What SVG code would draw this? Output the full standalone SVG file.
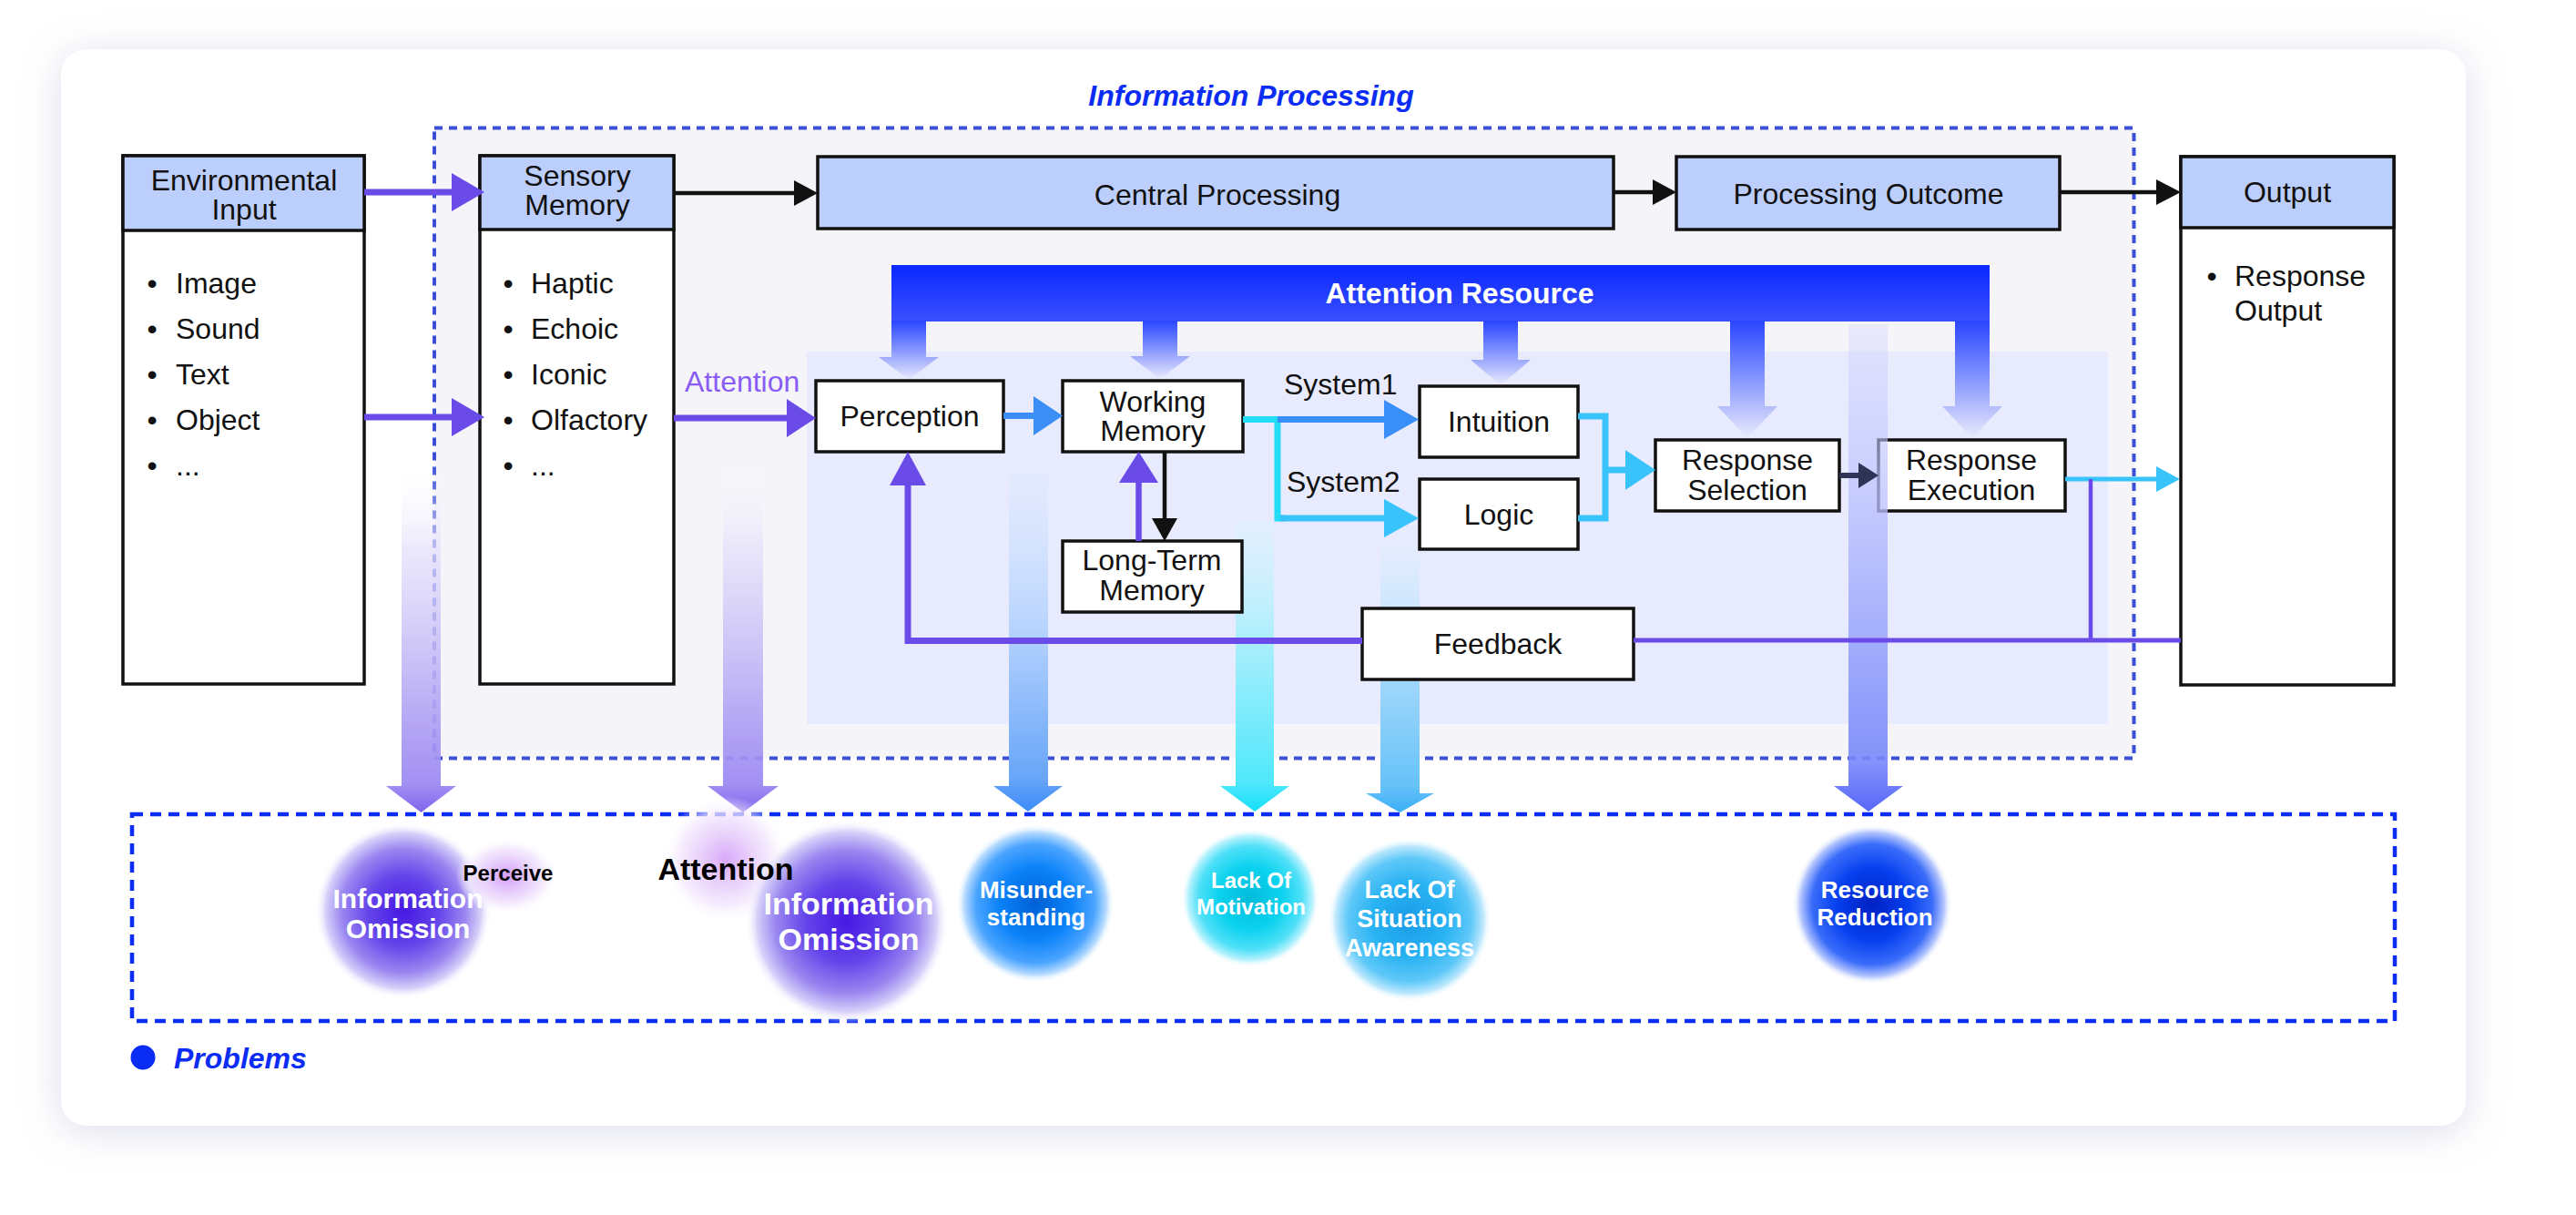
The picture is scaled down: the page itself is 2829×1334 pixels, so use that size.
<svg xmlns="http://www.w3.org/2000/svg" width="2829" height="1334" viewBox="0 0 2829 1334">
<defs>
<style>
.f{font-family:"Liberation Sans",Arial,Helvetica,sans-serif}
.t{font-size:32px;fill:#111}
.m{text-anchor:middle}
.bd{font-weight:bold}
.box{fill:#fff;stroke:#111;stroke-width:3.5}
.hdr{fill:#bccefc;stroke:#111;stroke-width:3.5}
.pu{stroke:#6a4be8;fill:none}
.puf{fill:#6a4be8}
.bk{stroke:#111;fill:none;stroke-width:4.5}
.bkf{fill:#111}
.cy{stroke:#38c4fa;fill:none}
.cyf{fill:#38c4fa}
.bw{fill:#fff;font-weight:bold;text-anchor:middle}
</style>
<filter id="sh" x="-5%" y="-10%" width="110%" height="120%">
<feDropShadow dx="0" dy="6" stdDeviation="22" flood-color="#9aa3c4" flood-opacity="0.35"/>
</filter>
<linearGradient id="gBar" x1="0" y1="0" x2="0" y2="1">
<stop offset="0" stop-color="#0a28ff"/><stop offset="1" stop-color="#3a50ff"/>
</linearGradient>
<linearGradient id="gDown" x1="0" y1="0" x2="0" y2="1">
<stop offset="0" stop-color="#2a46ff"/><stop offset="0.5" stop-color="#8797ff"/><stop offset="0.75" stop-color="#b8c0fc"/><stop offset="1" stop-color="#e8ebfd"/>
</linearGradient>
<linearGradient id="gP1" x1="0" y1="0" x2="0" y2="1">
<stop offset="0" stop-color="#ffffff" stop-opacity="0"/><stop offset="0.25" stop-color="#e6e0fb" stop-opacity="0.8"/><stop offset="0.7" stop-color="#b4a6f4"/><stop offset="0.92" stop-color="#9a86f2"/><stop offset="1" stop-color="#7656ec"/>
</linearGradient>
<linearGradient id="gMis" x1="0" y1="0" x2="0" y2="1">
<stop offset="0" stop-color="#dce8ff" stop-opacity="0.4"/><stop offset="0.45" stop-color="#b8d4ff"/><stop offset="0.9" stop-color="#68a6f8"/><stop offset="1" stop-color="#3d8af8"/>
</linearGradient>
<linearGradient id="gMot" x1="0" y1="0" x2="0" y2="1">
<stop offset="0" stop-color="#d8f4ff" stop-opacity="0.4"/><stop offset="0.45" stop-color="#a4eefc"/><stop offset="0.9" stop-color="#50e8fc"/><stop offset="1" stop-color="#14def8"/>
</linearGradient>
<linearGradient id="gSA" x1="0" y1="0" x2="0" y2="1">
<stop offset="0" stop-color="#dceeff" stop-opacity="0.4"/><stop offset="0.45" stop-color="#a8dafc"/><stop offset="0.9" stop-color="#66c2f8"/><stop offset="1" stop-color="#3aaef8"/>
</linearGradient>
<linearGradient id="gRes" x1="0" y1="0" x2="0" y2="1">
<stop offset="0" stop-color="#c8ccff" stop-opacity="0.3"/><stop offset="0.35" stop-color="#bcc2fe" stop-opacity="0.85"/><stop offset="0.9" stop-color="#7686fa"/><stop offset="1" stop-color="#4656f8"/>
</linearGradient>
<radialGradient id="bPur">
<stop offset="0" stop-color="#4618e4"/><stop offset="0.4" stop-color="#6444ea"/><stop offset="0.7" stop-color="#9a86f0"/><stop offset="0.88" stop-color="#d6cff9"/><stop offset="1" stop-color="#ffffff" stop-opacity="0"/>
</radialGradient>
<radialGradient id="bPink">
<stop offset="0" stop-color="#cc8ef7"/><stop offset="0.4" stop-color="#e2c2fa"/><stop offset="0.75" stop-color="#f4eafd"/><stop offset="1" stop-color="#ffffff" stop-opacity="0"/>
</radialGradient>
<radialGradient id="bMis">
<stop offset="0" stop-color="#0060d4"/><stop offset="0.45" stop-color="#0a82f8"/><stop offset="0.75" stop-color="#4aa4ff"/><stop offset="0.9" stop-color="#b8dcff"/><stop offset="1" stop-color="#ffffff" stop-opacity="0"/>
</radialGradient>
<radialGradient id="bMot">
<stop offset="0" stop-color="#04bcdc"/><stop offset="0.45" stop-color="#0ad2ee"/><stop offset="0.75" stop-color="#50e0f8"/><stop offset="0.9" stop-color="#b8f2fd"/><stop offset="1" stop-color="#ffffff" stop-opacity="0"/>
</radialGradient>
<radialGradient id="bSA">
<stop offset="0" stop-color="#1a9ce8"/><stop offset="0.45" stop-color="#28b2f2"/><stop offset="0.75" stop-color="#5ec8f8"/><stop offset="0.9" stop-color="#bce8fd"/><stop offset="1" stop-color="#ffffff" stop-opacity="0"/>
</radialGradient>
<radialGradient id="bRes">
<stop offset="0" stop-color="#0020c4"/><stop offset="0.45" stop-color="#0640ee"/><stop offset="0.75" stop-color="#3a6cfa"/><stop offset="0.9" stop-color="#b4c6fe"/><stop offset="1" stop-color="#ffffff" stop-opacity="0"/>
</radialGradient>
</defs>

<rect width="2829" height="1334" fill="#ffffff"/>
<rect id="card" x="67" y="54" width="2641" height="1182" rx="28" fill="#ffffff" filter="url(#sh)"/>

<g id="information-processing">
<rect x="477" y="140.5" width="1866.5" height="692" fill="#f4f4f9" stroke="#3b4fd8" stroke-width="4" stroke-dasharray="9 7"/>
<text class="f bd m" x="1374" y="116" font-size="32" font-style="italic" fill="#0a2cf5">Information Processing</text>
</g>
<rect id="processing-panel" x="886" y="386" width="1429" height="409" fill="#e8ebfd"/>

<g id="problems-area">
<rect x="145" y="894" width="2485" height="227" fill="none" stroke="#0a2cf5" stroke-width="4.5" stroke-dasharray="12 8"/>
<circle cx="157" cy="1161" r="13.5" fill="#0a2cf5"/>
<text class="f bd" x="191" y="1173" font-size="32" font-style="italic" fill="#0a2cf5">Problems</text>
</g>

<g id="problem-arrows">
<path d="M1108,520 H1151 V863 H1167 L1129,891 L1091,863 H1108 Z" fill="url(#gMis)"/>
<path d="M1357,572 H1399 V863 H1416 L1378,891 L1340,863 H1357 Z" fill="url(#gMot)"/>
<path d="M1516,600 H1559 V871 H1575 L1537.5,892 L1500,871 H1516 Z" fill="url(#gSA)"/>
</g>

<g id="attention-resource">
<rect x="979" y="291" width="1206" height="62" fill="url(#gBar)"/>
<text class="f bd m" x="1603" y="333" font-size="32" fill="#ffffff">Attention Resource</text>
<path d="M979,352 H1017 V392 H1031 L998,417 L965,392 H979 Z" fill="url(#gDown)"/>
<path d="M1255,352 H1293 V391 H1307 L1274,416 L1241,391 H1255 Z" fill="url(#gDown)"/>
<path d="M1629,352 H1667 V395 H1681 L1648,423 L1615,395 H1629 Z" fill="url(#gDown)"/>
<path d="M1900,352 H1938 V446 H1952 L1919,481 L1886,446 H1900 Z" fill="url(#gDown)"/>
<path d="M2147,352 H2185 V446 H2199 L2166,481 L2133,446 H2147 Z" fill="url(#gDown)"/>
</g>

<g id="environmental-input">
<rect class="box" x="135" y="171" width="265" height="580"/>
<rect class="hdr" x="135" y="171" width="265" height="82"/>
<text class="f t m" x="268" y="209">Environmental</text>
<text class="f t m" x="268" y="241">Input</text>
<g class="f t">
<text x="167" y="322" text-anchor="middle">•</text><text x="193" y="322">Image</text>
<text x="167" y="372" text-anchor="middle">•</text><text x="193" y="372">Sound</text>
<text x="167" y="422" text-anchor="middle">•</text><text x="193" y="422">Text</text>
<text x="167" y="472" text-anchor="middle">•</text><text x="193" y="472">Object</text>
<text x="167" y="522" text-anchor="middle">•</text><text x="193" y="522">...</text>
</g>
</g>

<g id="sensory-memory">
<rect class="box" x="527" y="171" width="213" height="580"/>
<rect class="hdr" x="527" y="171" width="213" height="81"/>
<text class="f t m" x="634" y="204">Sensory</text>
<text class="f t m" x="634" y="236">Memory</text>
<g class="f t">
<text x="558" y="322" text-anchor="middle">•</text><text x="583" y="322">Haptic</text>
<text x="558" y="372" text-anchor="middle">•</text><text x="583" y="372">Echoic</text>
<text x="558" y="422" text-anchor="middle">•</text><text x="583" y="422">Iconic</text>
<text x="558" y="472" text-anchor="middle">•</text><text x="583" y="472">Olfactory</text>
<text x="558" y="522" text-anchor="middle">•</text><text x="583" y="522">...</text>
</g>
</g>

<g id="central-processing">
<rect class="hdr" x="898" y="172" width="874" height="79"/>
<text class="f t m" x="1337" y="225">Central Processing</text>
</g>

<g id="processing-outcome">
<rect class="hdr" x="1841" y="172" width="421" height="80"/>
<text class="f t m" x="2052" y="224">Processing Outcome</text>
</g>

<g id="output">
<rect class="box" x="2395" y="172" width="234" height="580"/>
<rect class="hdr" x="2395" y="172" width="234" height="78"/>
<text class="f t m" x="2512" y="222">Output</text>
<text class="f t" x="2429" y="314" text-anchor="middle">•</text>
<text class="f t" x="2454" y="314">Response</text>
<text class="f t" x="2454" y="352">Output</text>
</g>

<g id="perception">
<rect class="box" x="896" y="418" width="206" height="78"/>
<text class="f t m" x="999" y="468">Perception</text>
</g>

<g id="working-memory">
<rect class="box" x="1167" y="418" width="198" height="78"/>
<text class="f t m" x="1266" y="452">Working</text>
<text class="f t m" x="1266" y="484">Memory</text>
</g>

<g id="long-term-memory">
<rect class="box" x="1167" y="594" width="197" height="78"/>
<text class="f t m" x="1265" y="626">Long-Term</text>
<text class="f t m" x="1265" y="659">Memory</text>
</g>

<g id="intuition">
<rect class="box" x="1559" y="424" width="174" height="78"/>
<text class="f t m" x="1646" y="474">Intuition</text>
</g>

<g id="logic">
<rect class="box" x="1559" y="526" width="174" height="77"/>
<text class="f t m" x="1646" y="576">Logic</text>
</g>

<g id="response-selection">
<rect class="box" x="1818" y="483" width="202" height="78"/>
<text class="f t m" x="1919" y="516">Response</text>
<text class="f t m" x="1919" y="549">Selection</text>
</g>

<g id="response-execution">
<rect class="box" x="2063" y="483" width="205" height="78"/>
<text class="f t m" x="2165" y="516">Response</text>
<text class="f t m" x="2165" y="549">Execution</text>
</g>

<g id="feedback">
<rect class="box" x="1496" y="668" width="298" height="78"/>
<text class="f t m" x="1645" y="718">Feedback</text>
</g>

<g id="resource-band">
<path d="M2030,356 H2073 V863 H2090 L2052,891 L2014,863 H2030 Z" fill="url(#gRes)" opacity="0.9"/>
</g>

<g id="connectors">
<line class="pu" x1="400" y1="211" x2="498" y2="211" stroke-width="7"/>
<polygon class="puf" points="496,190 532,211 496,232"/>
<line class="pu" x1="400" y1="458" x2="498" y2="458" stroke-width="7"/>
<polygon class="puf" points="496,437 532,458 496,479"/>
<line class="pu" x1="740" y1="459" x2="866" y2="459" stroke-width="7"/>
<polygon class="puf" points="864,438 896,459 864,480"/>
<text class="f" x="752" y="430" font-size="32" fill="#8a5cf6">Attention</text>
<line class="bk" x1="740" y1="212" x2="874" y2="212"/>
<polygon class="bkf" points="872,198 898,212 872,226"/>
<line class="bk" x1="1772" y1="211" x2="1817" y2="211"/>
<polygon class="bkf" points="1815,197 1841,211 1815,225"/>
<line class="bk" x1="2262" y1="211" x2="2370" y2="211"/>
<polygon class="bkf" points="2368,197 2395,211 2368,225"/>
<line x1="1102" y1="456.5" x2="1137" y2="456.5" stroke="#3a8ef6" stroke-width="7"/>
<polygon points="1135,435 1167,456.5 1135,478" fill="#3a8ef6"/>
<line class="bk" x1="1279" y1="496" x2="1279" y2="571"/>
<polygon class="bkf" points="1265,569 1279,594 1293,569"/>
<line class="pu" x1="1250.5" y1="594" x2="1250.5" y2="528" stroke-width="6.5"/>
<polygon class="puf" points="1229,530 1250.5,496 1272,530"/>
<polyline points="1365,460.5 1403,460.5 1403,569 1410,569" fill="none" stroke="#22dcf8" stroke-width="7"/>
<line x1="1403" y1="460.5" x2="1522" y2="460.5" stroke="#3a8ef8" stroke-width="7"/>
<polygon points="1520,439 1558,460.5 1520,482" fill="#3a8ef8"/>
<line class="cy" x1="1406" y1="569" x2="1522" y2="569" stroke-width="7"/>
<polygon class="cyf" points="1520,548 1558,569 1520,590"/>
<text class="f t" x="1410" y="433">System1</text>
<text class="f t" x="1413" y="540">System2</text>
<polyline class="cy" points="1733,457 1763,457 1763,569 1733,569" stroke-width="7"/>
<line class="cy" x1="1763" y1="516" x2="1787" y2="516" stroke-width="7"/>
<polygon class="cyf" points="1785,494 1818,516 1785,538"/>
<line x1="2020" y1="522" x2="2043" y2="522" stroke="#2f3456" stroke-width="6"/>
<polygon points="2041,508 2063,522 2041,536" fill="#2f3456"/>
<line class="cy" x1="2268" y1="526" x2="2370" y2="526" stroke-width="5"/>
<polygon class="cyf" points="2368,512 2394,526 2368,540"/>
<line class="pu" x1="2296" y1="526" x2="2296" y2="703" stroke-width="4.5"/>
<line class="pu" x1="2395" y1="703" x2="1794" y2="703" stroke-width="4.8"/>
<polyline class="pu" points="1496,703.5 997,703.5 997,531" stroke-width="7"/>
<polygon class="puf" points="977,533 997,496 1017,533"/>
</g>

<g id="attention-arrows">
<path d="M441,505 H484 V863 H501 L462.5,892 L424,863 H441 Z" fill="url(#gP1)" opacity="0.92"/>
<path d="M794,505 H838 V863 H855 L816,892 L777,863 H794 Z" fill="url(#gP1)" opacity="0.92"/>
</g>

<g id="problem-information-omission-1">
<circle cx="443" cy="1000" r="97" fill="url(#bPur)"/>
<ellipse cx="557" cy="962" rx="56" ry="42" fill="url(#bPink)" opacity="0.85"/>
<text class="f" x="558" y="967" font-size="24" font-weight="bold" text-anchor="middle" fill="#000">Perceive</text>
<text class="f bw" x="448" y="997" font-size="30">Information</text>
<text class="f bw" x="448" y="1030" font-size="30">Omission</text>
</g>

<g id="problem-information-omission-2">
<circle cx="797" cy="944" r="70" fill="url(#bPink)" opacity="0.75"/>
<circle cx="930" cy="1012" r="112" fill="url(#bPur)"/>
<text class="f" x="797" y="966" font-size="34" font-weight="bold" text-anchor="middle" fill="#000">Attention</text>
<text class="f bw" x="932" y="1004" font-size="34">Information</text>
<text class="f bw" x="932" y="1043" font-size="34">Omission</text>
</g>

<g id="problem-misunderstanding">
<circle cx="1137" cy="992" r="87" fill="url(#bMis)"/>
<text class="f bw" x="1138" y="986" font-size="26">Misunder-</text>
<text class="f bw" x="1138" y="1016" font-size="26">standing</text>
</g>

<g id="problem-lack-of-motivation">
<circle cx="1373" cy="986" r="76" fill="url(#bMot)"/>
<text class="f bw" x="1374" y="975" font-size="24">Lack Of</text>
<text class="f bw" x="1374" y="1004" font-size="24">Motivation</text>
</g>

<g id="problem-lack-of-situation-awareness">
<circle cx="1548" cy="1010" r="90" fill="url(#bSA)"/>
<text class="f bw" x="1548" y="986" font-size="27">Lack Of</text>
<text class="f bw" x="1548" y="1018" font-size="27">Situation</text>
<text class="f bw" x="1548" y="1050" font-size="27">Awareness</text>
</g>

<g id="problem-resource-reduction">
<circle cx="2056" cy="993" r="88" fill="url(#bRes)"/>
<text class="f bw" x="2059" y="986" font-size="26">Resource</text>
<text class="f bw" x="2059" y="1016" font-size="26">Reduction</text>
</g>
</svg>
